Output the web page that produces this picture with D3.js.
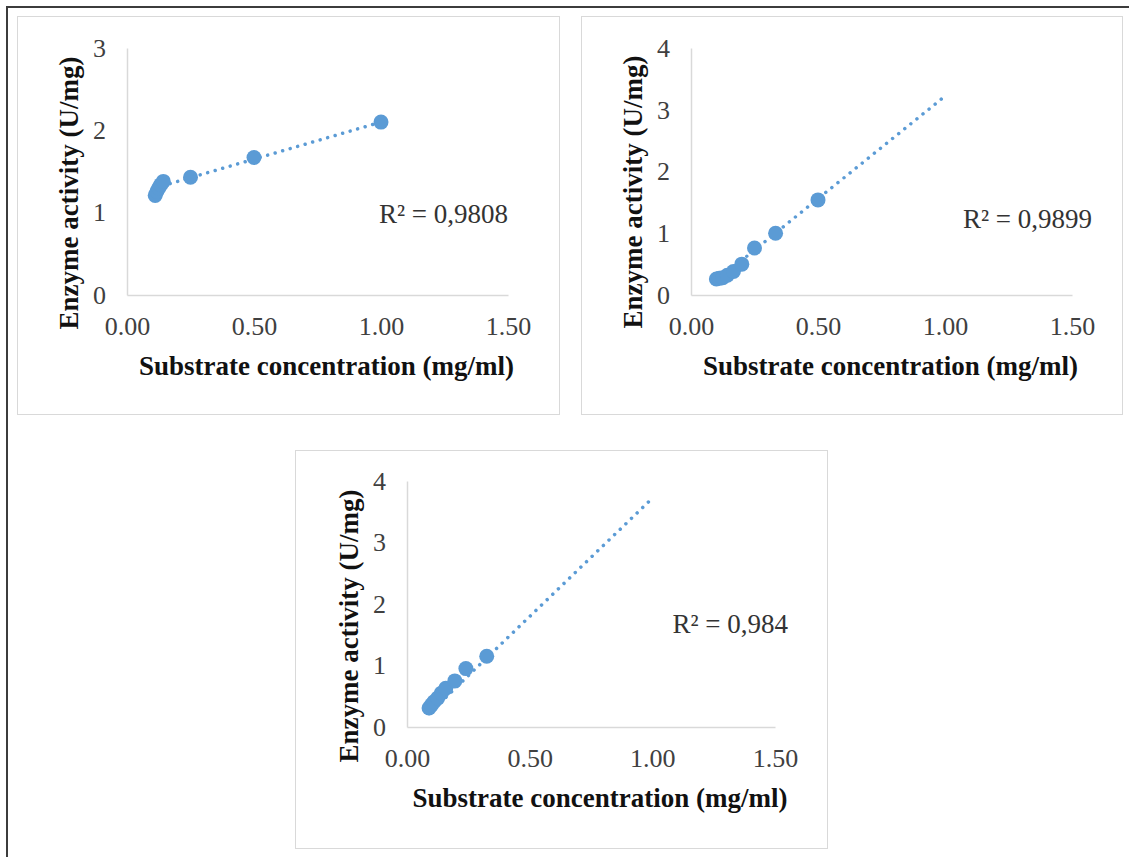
<!DOCTYPE html>
<html lang="en">
<head>
<meta charset="UTF-8">
<title>Enzyme activity vs substrate concentration</title>
<script src="https://d3js.org/d3.v7.min.js"></script>
<style>
  body { margin: 0; background: #fff; }
  text { font-family: "Liberation Serif", "Times New Roman", serif; }
</style>
</head>
<body>
<svg id="chart" width="1129" height="857"></svg>
<script>
// values
const conc1 = [0.111, 0.118, 0.125, 0.133, 0.143, 0.25, 0.5, 1.0];
const act1  = [1.21, 1.26, 1.30, 1.34, 1.38, 1.43, 1.67, 2.10];
const trendX1 = [0.111, 1.0];
const trendY1 = [1.30, 2.10];
const r2_1 = "R² = 0,9808";

const conc2 = [0.1, 0.111, 0.125, 0.143, 0.167, 0.2, 0.25, 0.333, 0.5];
const act2  = [0.26, 0.27, 0.28, 0.32, 0.38, 0.50, 0.76, 1.00, 1.54];
const trendX2 = [0.1, 1.0];
const trendY2 = [0.23, 3.22];
const r2_2 = "R² = 0,9899";

const conc3 = [0.09, 0.10, 0.11, 0.125, 0.14, 0.158, 0.195, 0.24, 0.325];
const act3  = [0.31, 0.36, 0.41, 0.47, 0.55, 0.63, 0.75, 0.95, 1.15];
const trendX3 = [0.09, 1.0];
const trendY3 = [0.22, 3.72];
const r2_3 = "R² = 0,984";

const xTicks = [0, 0.5, 1.0, 1.5];
const yTicks1 = [0, 1, 2, 3];
const yTicks2 = [0, 1, 2, 3, 4];
const yTicks3 = [0, 1, 2, 3, 4];

const xTitle = "Substrate concentration (mg/ml)";
const yTitle = "Enzyme activity (U/mg)";

const blue = "#5B9BD5";
const svg = d3.select("#chart");

// outer frame
svg.append("rect")
    .attr("x", 7).attr("y", 7)
    .attr("width", 1140).attr("height", 870)
    .attr("fill", "none").attr("stroke", "#3c3c3c").attr("stroke-width", 2);

function drawPanel(p) {
    // panel border
    svg.append("rect")
        .attr("x", p.box[0] + 0.5).attr("y", p.box[1] + 0.5)
        .attr("width", p.box[2] - p.box[0]).attr("height", p.box[3] - p.box[1])
        .attr("fill", "#fff").attr("stroke", "#d9d9d9").attr("stroke-width", 1);

    const x = d3.scaleLinear().domain([0, 1.5]).range([p.x0, p.x1]);
    const y = d3.scaleLinear().domain([0, d3.max(p.yTicks)]).range([p.y0, p.yTop]);

    const gx = svg.append("g")
        .attr("transform", `translate(0,${p.y0})`)
        .call(d3.axisBottom(x).tickValues(xTicks).tickFormat(d3.format(".2f"))
            .tickSize(0).tickPadding(22));
    const gy = svg.append("g")
        .attr("transform", `translate(${p.x0},0)`)
        .call(d3.axisLeft(y).tickValues(p.yTicks).tickFormat(d3.format("d"))
            .tickSize(0).tickPadding(21));

    [gx, gy].forEach(g => {
        g.select(".domain").attr("stroke", "#d9d9d9").attr("stroke-width", 1.5);
        g.selectAll("text")
            .attr("font-family", "Liberation Serif, Times New Roman, serif")
            .attr("font-size", 26).attr("fill", "#404040");
    });

    // trendline
    const line = d3.line().x(d => x(d[0])).y(d => y(d[1]));
    svg.append("path")
        .datum(d3.zip(p.tx, p.ty))
        .attr("d", line)
        .attr("fill", "none").attr("stroke", blue)
        .attr("stroke-width", 3.5)
        .attr("stroke-linecap", "round")
        .attr("stroke-dasharray", "0.01 7.8");

    // markers
    svg.append("g").selectAll("circle")
        .data(d3.zip(p.cx, p.cy))
        .join("circle")
        .attr("cx", d => x(d[0])).attr("cy", d => y(d[1]))
        .attr("r", 7.5).attr("fill", blue);

    // titles
    svg.append("text")
        .attr("x", (p.x0 + p.x1) / 2 + 9).attr("y", p.y0 + 80)
        .attr("text-anchor", "middle")
        .attr("font-size", 27).attr("font-weight", "bold").attr("fill", "#111")
        .text(xTitle);
    svg.append("text")
        .attr("transform", `translate(${p.x0 - 49},${p.yMid}) rotate(-90)`)
        .attr("text-anchor", "middle")
        .attr("font-size", 27).attr("font-weight", "bold").attr("fill", "#111")
        .text(yTitle);

    svg.append("text")
        .attr("x", p.r2[0]).attr("y", p.r2[1])
        .attr("text-anchor", "end")
        .attr("font-size", 27).attr("fill", "#333")
        .text(p.r2Text);
}

drawPanel({
    box: [17, 16, 559, 414],
    x0: 127, x1: 508, y0: 295, yTop: 48, yMid: 193,
    yTicks: yTicks1, cx: conc1, cy: act1, tx: trendX1, ty: trendY1,
    r2: [508, 223], r2Text: r2_1
});
drawPanel({
    box: [581, 16, 1122, 414],
    x0: 691, x1: 1072, y0: 295, yTop: 48, yMid: 192,
    yTicks: yTicks2, cx: conc2, cy: act2, tx: trendX2, ty: trendY2,
    r2: [1092, 228], r2Text: r2_2
});
drawPanel({
    box: [295, 450, 827, 848],
    x0: 407, x1: 775, y0: 727, yTop: 481, yMid: 626,
    yTicks: yTicks3, cx: conc3, cy: act3, tx: trendX3, ty: trendY3,
    r2: [788, 633], r2Text: r2_3
});
</script>
</body>
</html>
